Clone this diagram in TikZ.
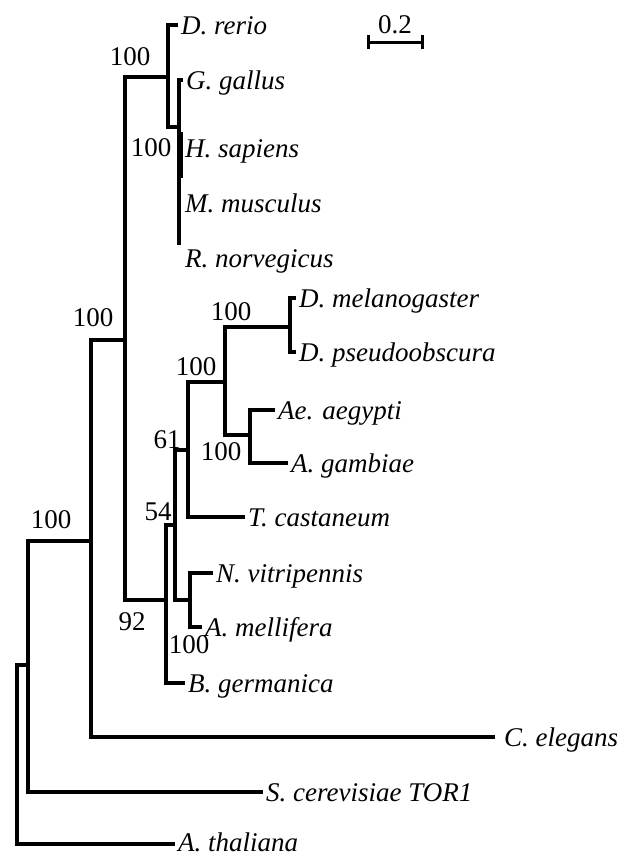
\documentclass[tikz,border=0pt]{standalone}
\usepackage{fontspec}
\setmainfont{Liberation Serif}[ItalicFont={Liberation Serif Italic}]
\newfontfamily\treefont{Liberation Serif}[ItalicFont={Liberation Serif Italic}]
\begin{document}
\begin{tikzpicture}[x=1pt,y=-1pt,
  branch/.style={line width=3.4pt, line join=miter, line cap=butt},
  leaf/.style={anchor=base west, inner sep=0pt, xshift=3pt, yshift=-9pt,
               font=\treefont\fontsize{27}{32}\selectfont\itshape},
  boot/.style={inner sep=0pt, font=\treefont\fontsize{27}{32}\selectfont}]
\useasboundingbox (0,0) rectangle (626,857);

% internal nodes
\coordinate (root) at (17,755);
\coordinate (nA)   at (28,665);
\coordinate (nB)   at (91,541);
\coordinate (nC)   at (125,340);
\coordinate (nV)   at (168,77);
\coordinate (nV2)  at (179,127);
\coordinate (nI)   at (166,600);
\coordinate (n54)  at (175,525);
\coordinate (n61)  at (188,450);
\coordinate (nDM)  at (225,382);
\coordinate (nDro) at (290,327);
\coordinate (nMos) at (250,435);
\coordinate (nH)   at (190,600);

% tips
\coordinate (t-drer) at (178,25);
\coordinate (t-ggal) at (183,80);
\coordinate (t-hsap) at (182,148);
\coordinate (t-mmus) at (182,203);
\coordinate (t-rnor) at (182,245);
\coordinate (t-dmel) at (296,298);
\coordinate (t-dpse) at (296,352);
\coordinate (t-aaeg) at (275,410);
\coordinate (t-agam) at (288,463);
\coordinate (t-tcas) at (245,517);
\coordinate (t-nvit) at (213,573);
\coordinate (t-amel) at (202,627);
\coordinate (t-bger) at (185,683);
\coordinate (t-cele) at (495,737);
\coordinate (t-scer) at (263,792);
\coordinate (t-atha) at (175,844);

% branches
\draw[branch] (root) |- (t-atha);
\draw[branch] (root) |- (nA);
\draw[branch] (nA) |- (t-scer);
\draw[branch] (nA) |- (nB);
\draw[branch] (nB) |- (t-cele);
\draw[branch] (nB) |- (nC);
\draw[branch] (nC) |- (nV);
\draw[branch] (nC) |- (nI);
\draw[branch] (nV) |- (t-drer);
\draw[branch] (nV) |- (nV2);
\draw[branch] (nV2) |- (t-ggal);
\draw[branch] (nV2) -- (nV2 |- t-rnor);
\draw[line width=6pt] (180,132) -- (180,178);
\draw[branch] (nI) |- (t-bger);
\draw[branch] (nI) |- (n54);
\draw[branch] (n54) |- (n61);
\draw[branch] (n54) |- (nH);
\draw[branch] (n61) |- (nDM);
\draw[branch] (n61) |- (t-tcas);
\draw[branch] (nDM) |- (nDro);
\draw[branch] (nDM) |- (nMos);
\draw[branch] (nDro) |- (t-dmel);
\draw[branch] (nDro) |- (t-dpse);
\draw[branch] (nMos) |- (t-aaeg);
\draw[branch] (nMos) |- (t-agam);
\draw[branch] (nH) |- (t-nvit);
\draw[branch] (nH) |- (t-amel);

% species names
\node[leaf] (l-drer) at (t-drer) {D. rerio};
\node[leaf] (l-ggal) at (t-ggal) {G. gallus};
\node[leaf] (l-hsap) at (t-hsap) {H. sapiens};
\node[leaf] (l-mmus) at (t-mmus) {M. musculus};
\node[leaf, yshift=-13pt] (l-rnor) at (t-rnor) {R. norvegicus};
\node[leaf] (l-dmel) at (t-dmel) {D. melanogaster};
\node[leaf] (l-dpse) at (t-dpse) {D. pseudoobscura};
\node[leaf] (l-aaeg) at (t-aaeg) {Ae. aegypti};
\node[leaf] (l-agam) at (t-agam) {A. gambiae};
\node[leaf] (l-tcas) at (t-tcas) {T. castaneum};
\node[leaf] (l-nvit) at (t-nvit) {N. vitripennis};
\node[leaf] (l-amel) at (t-amel) {A. mellifera};
\node[leaf] (l-bger) at (t-bger) {B. germanica};
\node[leaf, xshift=6pt] (l-cele) at (t-cele) {C. elegans};
\node[leaf] (l-scer) at (t-scer) {S. cerevisiae TOR1};
\node[leaf, yshift=2pt] (l-atha) at (t-atha) {A. thaliana};

% bootstrap values
\node[boot] (b-B)   at (51,520)  {100};
\node[boot] (b-C)   at (93,318)  {100};
\node[boot] (b-V)   at (130,57)  {100};
\node[boot] (b-V2)  at (151,148) {100};
\node[boot] (b-I)   at (132,622) {92};
\node[boot] (b-54)  at (158,512) {54};
\node[boot] (b-61)  at (167,440) {61};
\node[boot] (b-DM)  at (196,367) {100};
\node[boot] (b-Dro) at (231,312) {100};
\node[boot] (b-Mos) at (221,452) {100};
\node[boot] (b-H)   at (189,645) {100};

% scale bar
\coordinate (s0) at (368,42);
\coordinate (s1) at (422,42);
\draw[line width=3pt] (s0) -- (s1);
\draw[line width=3pt] ([yshift=7pt]s0) -- ([yshift=-7pt]s0);
\draw[line width=3pt] ([yshift=7pt]s1) -- ([yshift=-7pt]s1);
\node[boot] (scale) at (395,25) {0.2};
\end{tikzpicture}
\end{document}
